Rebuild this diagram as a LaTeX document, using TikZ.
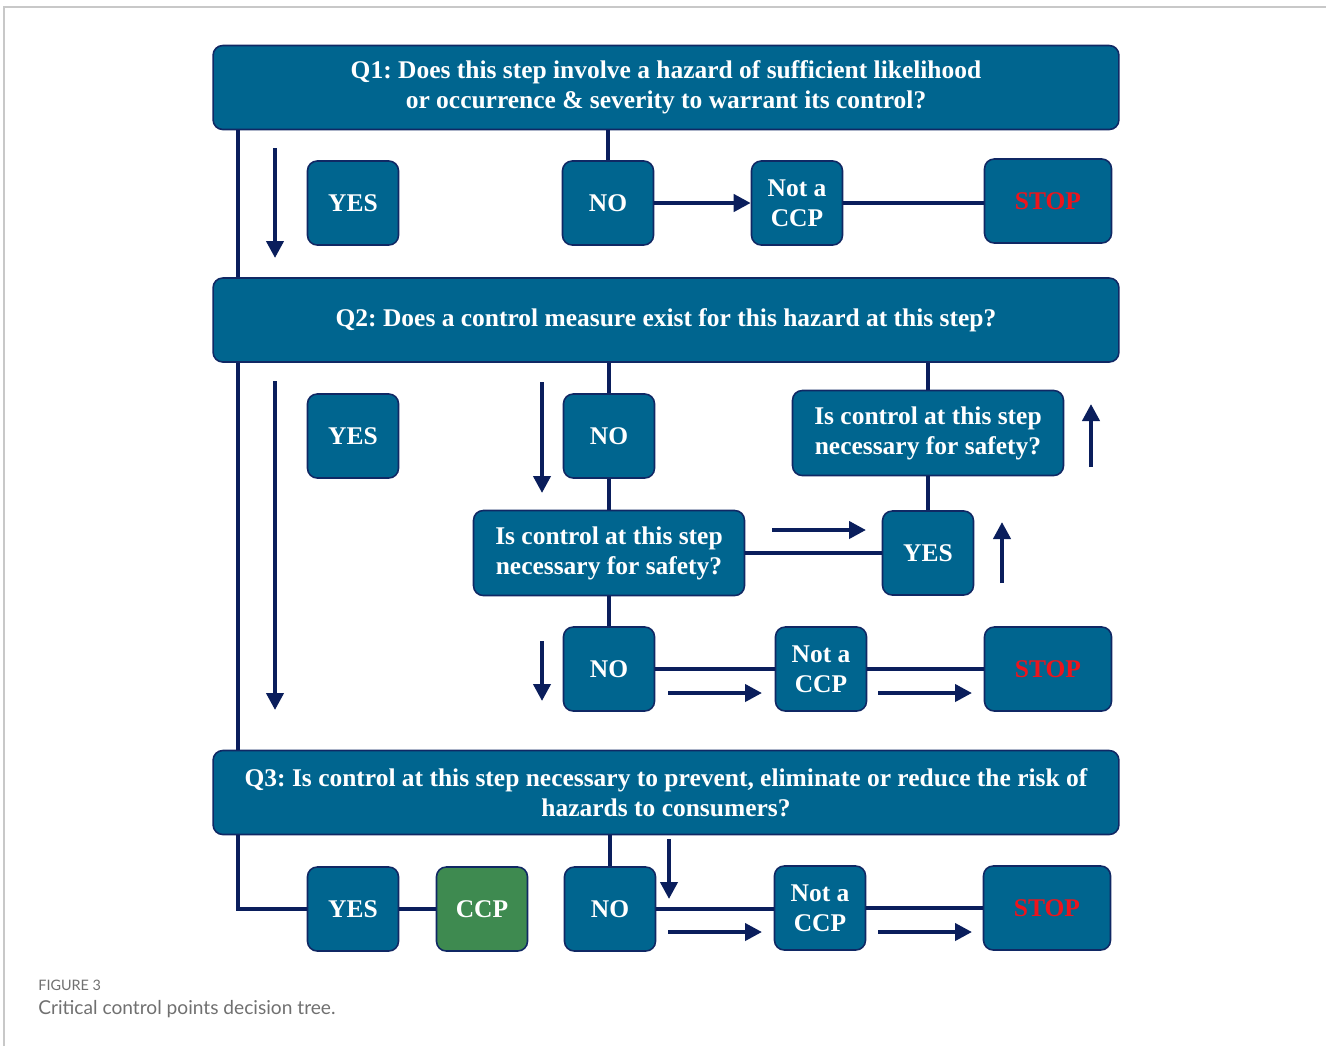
\documentclass[tikz,border=0pt]{standalone}
\usepackage{fontspec}
\usepackage{tikz}
\usetikzlibrary{arrows.meta}
\newfontfamily\boxfont{Liberation Serif}
\newfontfamily\capfont{Lato}
\definecolor{ccedge}{RGB}{16,40,100}
\definecolor{ccfill}{RGB}{0,101,143}
\definecolor{ccline}{RGB}{10,30,92}
\definecolor{ccgreen}{RGB}{62,138,80}
\definecolor{ccstop}{RGB}{236,20,28}
\definecolor{ccgray}{RGB}{112,112,112}
\definecolor{ccframe}{RGB}{200,200,200}
\tikzset{
  ccbox/.style={
    draw=ccedge, fill=ccfill, line width=0.9pt, rounded corners=5.5pt,
    align=center, text=white, inner sep=2pt,
    font=\boxfont\bfseries\frenchspacing\fontsize{14.5}{17}\selectfont
  },
  ans/.style={ccbox, minimum width=1.82cm, minimum height=1.68cm},
  ccp/.style={ans, fill=ccgreen},
  stopbox/.style={ccbox, minimum width=2.54cm, minimum height=1.68cm, text=ccstop},
  qbox/.style={ccbox, minimum width=18.12cm, minimum height=1.68cm},
  sbox/.style={ccbox, minimum width=5.42cm, minimum height=1.70cm},
  lnk/.style={draw=ccline, line width=2.3pt},
  arr/.style={-{Triangle[length=0.34cm,width=0.34cm]}, draw=ccline, line width=2.3pt},
  figtext/.style={anchor=base west, text=ccgray, inner sep=0pt}
}

\begin{document}
\begin{tikzpicture}[x=0.02cm, y=-0.02cm]
  \useasboundingbox (0,0) rectangle (1326,1046);
  \draw[ccframe, line width=0.6pt] (4,1046) -- (4,7) -- (1326,7);

  % Q1 row
  \node[qbox] (q1) at (666,87.5) {Q1: Does this step involve a hazard of sufficient likelihood\\or occurrence \& severity to warrant its control?};
  \node[ans] (yesA) at (353,203) {YES};
  \node[ans] (noA) at (608,203) {NO};
  \node[ans] (notA) at (797,203) {Not a\\CCP};
  \node[stopbox] (stopA) at (1048,201) {STOP};

  % Q2 block
  \node[qbox] (q2) at (666,320) {Q2: Does a control measure exist for this hazard at this step?};
  \node[ans] (yesB) at (353,436) {YES};
  \node[ans] (noB) at (609,436) {NO};
  \node[sbox] (isA) at (609,553) {Is control at this step\\necessary for safety?};
  \node[ans] (yesC) at (928,553) {YES};
  \node[sbox] (isB) at (928,433) {Is control at this step\\necessary for safety?};
  \node[ans] (noC) at (609,669) {NO};
  \node[ans] (notB) at (821,669) {Not a\\CCP};
  \node[stopbox] (stopB) at (1048,669) {STOP};

  % Q3 row
  \node[qbox] (q3) at (666,792.5) {Q3: Is control at this step necessary to prevent, eliminate or reduce the risk of\\hazards to consumers?};
  \node[ans] (yesD) at (353,909) {YES};
  \node[ccp] (ccpD) at (482,909) {CCP};
  \node[ans] (noD) at (610,909) {NO};
  \node[ans] (notC) at (820,908) {Not a\\CCP};
  \node[stopbox] (stopC) at (1047,908) {STOP};

  % connectors
  \draw[lnk] ([xshift=0.52cm]q1.south west) -- ([xshift=0.52cm]q2.north west);
  \draw[lnk] ([xshift=0.52cm]q2.south west) -- ([xshift=0.52cm]q3.north west);
  \draw[lnk] ([xshift=0.52cm]q3.south west) |- (yesD.west);
  \draw[lnk] (q1.south -| noA.north) -- (noA.north);
  \draw[arr] (noA) -- (notA);
  \draw[lnk] (notA.east) -- (notA.east -| stopA.west);
  \draw[lnk] (q2.south -| noB.north) -- (noB.north);
  \draw[lnk] (noB) -- (isA);
  \draw[lnk] (isA) -- (yesC);
  \draw[lnk] (yesC) -- (isB);
  \draw[lnk] (isB.north) -- (isB.north |- q2.south);
  \draw[lnk] (isA) -- (noC);
  \draw[lnk] (noC) -- (notB);
  \draw[lnk] (notB) -- (stopB);
  \draw[lnk] (q3.south -| noD.north) -- (noD.north);
  \draw[lnk] (yesD) -- (ccpD);
  \draw[lnk] (noD.east) -- (noD.east -| notC.west);
  \draw[lnk] (notC) -- (stopC);

  % direction arrows
  \draw[arr] (275,148) -- (275,258);
  \draw[arr] (275,381) -- (275,710);
  \draw[arr] (542,382) -- (542,493);
  \draw[arr] (772,530) -- (866,530);
  \draw[arr] (1002,583) -- (1002,522);
  \draw[arr] (1091,467) -- (1091,404);
  \draw[arr] (542,641) -- (542,701);
  \draw[arr] (668,693) -- (762,693);
  \draw[arr] (878,693) -- (972,693);
  \draw[arr] (669,839) -- (669,899);
  \draw[arr] (668,932) -- (762,932);
  \draw[arr] (878,932) -- (972,932);

  % caption
  \node[figtext, font=\capfont\fontsize{8.2}{10}\selectfont] (figno) at (38,990) {FIGURE 3};
  \node[figtext, font=\capfont\fontsize{10.9}{12}\selectfont] (figcap) at (38,1014) {Critical control points decision tree.};
\end{tikzpicture}
\end{document}
